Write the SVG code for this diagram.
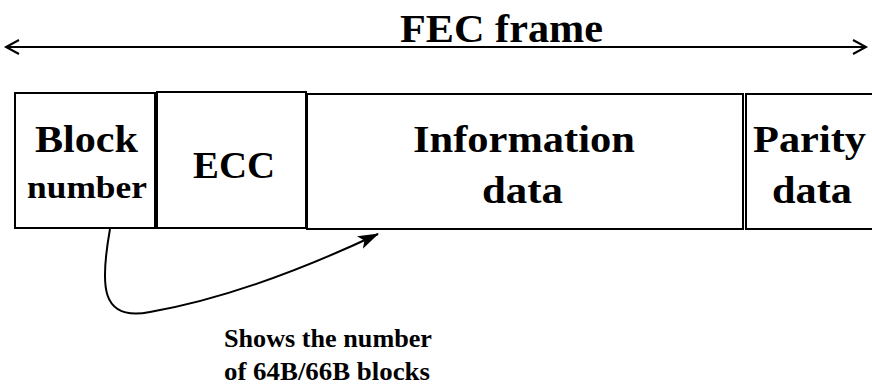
<svg xmlns="http://www.w3.org/2000/svg" width="872" height="388" viewBox="0 0 872 388">
<style>
.box{fill:#fff;stroke:#000;stroke-width:2}
.t{font-weight:bold;fill:#000}
.big{font-size:37px}
.conn{fill:none;stroke:#000;stroke-width:2}
</style>
<defs>
<marker id="open" markerWidth="20" markerHeight="20" refX="14" refY="8" orient="auto-start-reverse" markerUnits="userSpaceOnUse">
<path d="M1,1 L14,8 L1,15" fill="none" stroke="#000" stroke-width="2"/>
</marker>
<marker id="solid" markerWidth="24" markerHeight="16" refX="20" refY="7" orient="auto" markerUnits="userSpaceOnUse">
<path d="M0,0 L21,7 L0,14 L5,7 Z" fill="#000"/>
</marker>
</defs>
<g font-family="Liberation Serif, Times New Roman, serif">
<g id="title">
<text class="t" x="400" y="42" font-size="39" textLength="203" lengthAdjust="spacingAndGlyphs">FEC frame</text>
</g>
<g id="block-number">
<rect class="box" x="15" y="93" width="140" height="135"/>
<text class="t big" x="35" y="152" textLength="103" lengthAdjust="spacingAndGlyphs">Block</text>
<text class="t" x="27" y="198" font-size="31" textLength="120" lengthAdjust="spacingAndGlyphs">number</text>
</g>
<g id="ecc">
<rect class="box" x="157" y="92" width="149" height="136"/>
<text class="t big" x="193" y="178" textLength="82" lengthAdjust="spacingAndGlyphs">ECC</text>
</g>
<g id="information-data">
<rect class="box" x="307" y="94" width="436" height="135"/>
<text class="t big" x="413" y="152" textLength="222" lengthAdjust="spacingAndGlyphs">Information</text>
<text class="t big" x="482" y="203" textLength="81" lengthAdjust="spacingAndGlyphs">data</text>
</g>
<g id="parity-data">
<rect class="box" x="746" y="94" width="140" height="135"/>
<text class="t big" x="753" y="152" textLength="113" lengthAdjust="spacingAndGlyphs">Parity</text>
<text class="t big" x="772" y="203" textLength="80" lengthAdjust="spacingAndGlyphs">data</text>
</g>
<g id="note">
<text class="t" x="224" y="347" font-size="25" textLength="208" lengthAdjust="spacingAndGlyphs">Shows the number</text>
<text class="t" x="224" y="380" font-size="25" textLength="206" lengthAdjust="spacingAndGlyphs">of 64B/66B blocks</text>
</g>
</g>
<g id="connectors">
<line class="conn" x1="6" y1="47" x2="866" y2="47" marker-start="url(#open)" marker-end="url(#open)"/>
<path class="conn" d="M110,229 C100,285 100,322 150,312 C230,298 310,266 378,234" marker-end="url(#solid)"/>
</g>
</svg>
